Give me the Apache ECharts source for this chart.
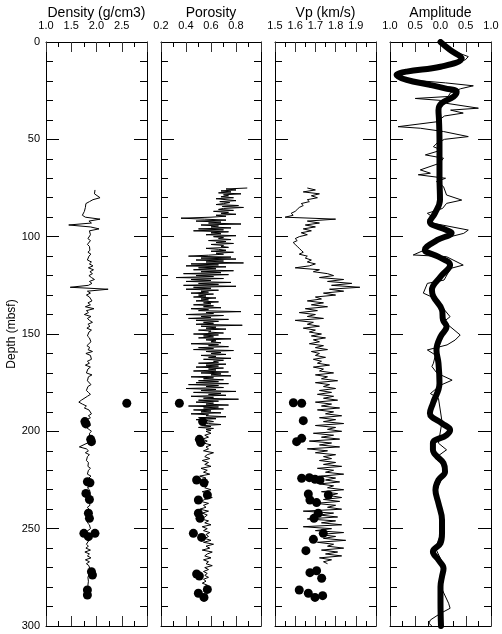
<!DOCTYPE html>
<html><head><meta charset="utf-8">
<script src="https://cdn.jsdelivr.net/npm/echarts@6/dist/echarts.min.js"></script>
<style>html,body{margin:0;padding:0;background:#fff}#c{width:502px;height:634px}</style>
</head><body><div id="c"></div>
<script>
// ---------- DATA ----------
var panelTitles = ['Density (g/cm3)', 'Porosity', 'Vp (km/s)', 'Amplitude'];
var depthTicks = [0, 50, 100, 150, 200, 250, 300];

// Density log (g/cm3), sampled every 1 m from 76 m
var densityStart = 76, densityStep = 1;
var densityLog = [
1.97,1.98,1.96,1.97,2.07,1.93,1.86,1.79,1.82,1.78,
1.80,1.76,1.74,1.72,1.78,2.07,1.85,1.90,1.45,1.88,
2.05,1.86,1.84,1.88,1.86,1.83,1.88,1.85,1.82,1.86,
1.84,1.87,1.83,1.89,1.85,1.88,1.82,1.90,1.86,1.93,
1.84,1.94,1.87,1.92,1.85,1.90,1.96,1.86,1.91,1.84,
1.48,2.23,1.82,1.88,1.80,1.86,1.84,1.91,1.83,1.88,
1.78,1.95,1.80,1.84,1.76,1.89,1.82,1.86,1.92,1.83,
1.87,1.81,1.90,1.85,1.88,1.82,1.86,1.84,1.89,1.85,
1.81,1.87,1.83,1.92,1.79,1.88,1.85,1.90,1.82,1.86,
1.78,1.88,1.83,1.86,1.80,1.91,1.84,1.87,1.82,1.85,
1.89,1.83,1.86,1.80,1.84,1.88,1.82,1.79,1.70,1.65,
1.72,1.80,1.76,1.85,1.82,1.90,1.84,1.88,1.81,1.86,
1.84,1.88,1.80,1.85,1.90,1.86,1.83,1.87,1.85,1.88,
1.82,1.85,1.66,1.80,1.84,1.78,1.86,1.82,1.85,1.80,
1.84,1.87,1.83,1.88,1.84,1.86,1.82,1.89,1.85,1.83,
1.87,1.84,1.88,1.82,1.86,1.83,1.88,1.85,1.87,1.84,
1.86,1.83,1.87,1.82,1.85,1.88,1.84,1.86,1.83,1.87,
1.85,1.82,1.86,1.84,1.88,1.83,1.79,1.86,1.84,1.81,
1.85,1.88,1.80,1.84,1.79,1.88,1.77,1.86,1.82,1.89,
1.78,1.86,1.80,1.85,1.83,1.87,1.84,1.86,1.85,1.83,
1.86,1.84,1.87,1.83,1.85,1.84,1.86,1.83,1.85,1.84,1.85];
var densityCoreDepth = [185.6,195.0,196.2,204.1,205.3,225.9,226.4,231.9,235.0,242.1,244.7,252.4,252.4,254.1,272.1,273.8,281.5,284.1];
var densityCore =      [2.60, 1.77, 1.79, 1.885,1.90, 1.82, 1.87, 1.79, 1.86, 1.84, 1.86, 1.75, 1.97, 1.84, 1.90, 1.92, 1.82, 1.82];

// Porosity log (fraction): upper part every 0.5 m from 75 m, lower part every 1 m from 200 m
var porosityUpperStart = 75, porosityUpperStep = 0.5;
var porosityUpper = [
0.89,0.72,0.80,0.68,0.76,0.66,0.84,0.70,0.74,0.68,0.78,0.64,0.72,0.80,0.67,0.75,0.70,0.64,0.82,0.69,
0.86,0.70,0.66,0.78,0.62,0.74,0.68,0.80,0.64,0.72,0.60,0.36,0.55,0.72,0.48,0.68,0.58,0.84,0.52,0.66,
0.60,0.76,0.50,0.70,0.46,0.74,0.60,0.68,0.56,0.80,0.62,0.70,0.66,0.76,0.58,0.72,0.64,0.78,0.60,0.70,
0.68,0.74,0.56,0.66,0.72,0.60,0.78,0.64,0.70,0.58,0.42,0.76,0.52,0.80,0.48,0.70,0.56,0.86,0.44,0.66,
0.40,0.72,0.50,0.64,0.46,0.78,0.52,0.68,0.38,0.74,0.48,0.62,0.32,0.70,0.44,0.60,0.40,0.76,0.50,0.66,
0.38,0.80,0.46,0.60,0.40,0.66,0.52,0.58,0.44,0.62,0.50,0.56,0.46,0.64,0.52,0.58,0.48,0.66,0.54,0.60,
0.46,0.62,0.54,0.68,0.44,0.58,0.50,0.84,0.56,0.62,0.40,0.70,0.52,0.60,0.42,0.74,0.48,0.66,0.54,0.62,
0.48,0.85,0.52,0.64,0.56,0.72,0.50,0.60,0.58,0.70,0.46,0.66,0.54,0.62,0.50,0.76,0.56,0.64,0.60,0.68,
0.44,0.66,0.58,0.74,0.50,0.62,0.46,0.78,0.56,0.68,0.60,0.72,0.52,0.64,0.58,0.76,0.54,0.70,0.62,0.66,
0.50,0.72,0.56,0.66,0.48,0.70,0.58,0.64,0.46,0.74,0.52,0.68,0.60,0.76,0.44,0.62,0.54,0.70,0.50,0.66,
0.48,0.74,0.42,0.66,0.56,0.70,0.40,0.64,0.52,0.80,0.46,0.68,0.58,0.72,0.44,0.62,0.54,0.82,0.50,0.66,
0.48,0.62,0.56,0.74,0.42,0.66,0.54,0.70,0.46,0.60,0.52,0.68,0.44,0.58,0.56,0.72,0.50,0.64,0.48,0.58,
0.62,0.52,0.58,0.68,0.54,0.60,0.50,0.62,0.56,0.60];
var porosityLowerStart = 200, porosityLowerStep = 1;
var porosityLower = [
0.56,0.60,0.55,0.58,0.53,
0.57,0.54,0.60,0.56,0.58,0.54,0.62,0.57,0.55,0.59,
0.53,0.58,0.55,0.60,0.52,0.57,0.54,0.59,0.51,0.56,
0.54,0.58,0.52,0.57,0.55,0.60,0.53,0.58,0.54,0.61,
0.55,0.52,0.58,0.54,0.56,0.51,0.58,0.53,0.57,0.55,
0.52,0.58,0.55,0.60,0.53,0.57,0.54,0.59,0.56,0.58,
0.55,0.60,0.54,0.62,0.56,0.59,0.53,0.61,0.57,0.55,
0.60,0.54,0.58,0.56,0.61,0.55,0.58,0.54,0.57,0.55,
0.58,0.54,0.56,0.53,0.57,0.55,0.58,0.54,0.56,0.55,0.57];
var porosityCoreDepth = [185.6,195.0,204.1,205.8,225.0,226.4,232.7,235.3,242.1,244.7,252.4,254.5,273.3,274.3,281.2,283.2,285.3];
var porosityCore =      [0.347,0.533,0.507,0.517,0.485,0.544,0.571,0.499,0.499,0.512,0.459,0.525,0.485,0.507,0.571,0.499,0.544];

// Vp log (km/s), sampled every 1 m from 75 m
var vpStart = 75, vpStep = 1;
var vpLog = [
1.66,1.70,1.64,1.72,1.68,1.71,1.66,1.67,1.63,1.64,
1.62,1.61,1.60,1.58,1.59,1.55,1.80,1.66,1.72,1.65,
1.70,1.64,1.68,1.63,1.66,1.62,1.60,1.61,1.59,1.60,
1.61,1.62,1.63,1.64,1.62,1.66,1.65,1.68,1.66,1.70,
1.67,1.60,1.72,1.69,1.76,1.79,1.72,1.84,1.76,1.88,
1.78,1.92,1.77,1.84,1.74,1.80,1.70,1.73,1.66,1.74,
1.68,1.76,1.65,1.71,1.62,1.70,1.66,1.74,1.60,1.69,
1.66,1.72,1.64,1.70,1.67,1.73,1.68,1.75,1.69,1.72,
1.67,1.74,1.70,1.76,1.68,1.72,1.70,1.75,1.69,1.73,
1.71,1.77,1.69,1.74,1.72,1.79,1.70,1.76,1.73,1.81,
1.70,1.77,1.74,1.80,1.72,1.78,1.71,1.79,1.74,1.81,
1.70,1.78,1.73,1.82,1.71,1.79,1.75,1.83,1.72,1.80,
1.74,1.84,1.70,1.80,1.76,1.83,1.69,1.79,1.73,1.82,
1.67,1.78,1.72,1.82,1.66,1.76,1.70,1.80,1.74,1.78,
1.72,1.80,1.74,1.83,1.71,1.79,1.75,1.84,1.73,1.80,
1.75,1.82,1.72,1.79,1.76,1.84,1.73,1.81,1.77,1.83,
1.74,1.82,1.70,1.80,1.76,1.83,1.64,1.79,1.72,1.81,
1.66,1.80,1.73,1.83,1.64,1.78,1.70,1.84,1.72,1.80,
1.74,1.85,1.71,1.79,1.76,1.84,1.73,1.81,1.75,1.83,
1.72,1.78,1.74,1.76];
var vpCoreDepth = [185.3,185.6,194.5,205.3,203.6,224.1,223.8,224.6,225.0,232.2,235.3,236.6,232.7,244.7,242.1,252.4,255.5,261.3,272.6,271.6,275.5,281.5,283.2,285.3,284.4];
var vpCore =      [1.591,1.632,1.640,1.607,1.632,1.632,1.670,1.698,1.723,1.665,1.673,1.706,1.764,1.693,1.714,1.739,1.690,1.653,1.673,1.706,1.731,1.620,1.665,1.698,1.736];

// Amplitude: synthetic (thin) and smoothed trace (thick)
var ampThinDepth = [0,4.1,7.5,9.2,10,12.7,15.2,17,19.5,21,22.5,24,26,28,29,30,31.5,34,35,36.5,38,41,43.5,44.3,46,48.6,50,51.7,53.8,55.5,58,59.7,62.3,65.7,67.4,68.2,70,71.7,74.3,78.6,81.2,82.9,85.5,88,89.8,91.5,93.2,96.6,98.3,101.7,106,106.8,109.4,110.3,114.6,116.3,122.3,124,129,131.7,141.1,143.6,150.5,153.1,155.6,158.2,160.8,165,166.7,170.1,173.7,176.3,180.6,183.1,195,206.1,209.5,213.8,217.2,220.7,230,240,250,260,267,270.4,280,288.3,290.9,293.5,296.9,298.6,300];
var ampThin = [0,0.2,0.55,0.49,0.35,0.0,-0.65,-0.85,-0.6,0.1,0.65,0.4,0.2,0.15,-0.5,0.0,0.12,0.75,0.2,0.45,0.08,-0.08,-0.84,-0.4,0.06,0.55,0.08,-0.06,-0.14,0.02,-0.3,0.06,-0.02,-0.4,-0.2,-0.44,0.1,-0.08,0.06,0.12,0.42,0.12,0.04,-0.26,-0.16,-0.26,-0.13,0.55,0.46,-0.06,-0.25,-0.31,-0.54,0.12,0.45,0.2,0.07,-0.26,-0.34,-0.11,0.19,0.07,0.39,0.29,0.13,-0.26,-0.1,-0.14,-0.17,-0.07,0.23,0.0,-0.2,-0.04,0.03,-0.04,0.12,-0.11,0.06,0.09,-0.08,-0.02,0.04,-0.1,0.03,0.06,0.01,0.16,0.19,0.0,-0.2,-0.23,-0.17];
var ampThickDepth = [0,4.1,8.4,12.7,15.2,17,19.5,22,23.8,25.5,28,31.5,35,40,50,60,70,81,88,92.3,96.6,98,101.7,105.1,106.8,110.3,114.6,120.6,127.4,130.8,137.7,142.8,146.2,151.4,158.2,165,175.3,185.6,190.7,195.9,199.3,201.9,206.1,209.5,216.4,220.7,225,230.1,237,245.5,252.4,257.5,261.8,266.1,270.4,274.6,279.8,288.3,300];
var ampThick = [0,0.19,0.42,0,-0.67,-0.87,-0.67,-0.21,0.09,0.32,0.26,0.02,-0.04,-0.03,-0.02,-0.02,-0.02,-0.01,-0.11,-0.21,0.12,0.22,-0.06,-0.27,-0.31,-0.04,0.19,0,-0.17,-0.14,0.03,0.05,0.12,0,-0.08,-0.04,-0.02,-0.15,-0.21,0.03,0.19,0.12,-0.15,-0.15,0.06,0.09,-0.04,-0.1,-0.04,0.03,0.03,0,-0.15,-0.04,0.06,0.03,0,0,0.01];

// ---------- BUILD ----------
function regular(start, step, vals){ return vals.map(function(v,i){ return [v, start + i*step]; }); }
function paired(depths, vals){ return vals.map(function(v,i){ return [v, depths[i]]; }); }

var FONT = '"Liberation Sans", Arial, sans-serif';
var INK = '#000';
var panels = [
  {left:46, width:101, min:1.0, max:3.0, interval:0.5, hideMax:true,  abs:false},
  {left:161, width:100, min:0.2, max:1.0, interval:0.2, hideMax:true, abs:false},
  {left:275, width:101, min:1.5, max:2.0, interval:0.1, hideMax:true, abs:false},
  {left:390, width:101, min:-1.0, max:1.0, interval:0.5, hideMax:false, abs:true}
];
var TOP = 42, H = 584;

var grids = [], xAxes = [], yAxes = [], graphics = [];
panels.forEach(function(p, g){
  grids.push({left:p.left, top:TOP, width:p.width, height:H, containLabel:false});
  var common = {
    type:'value', gridIndex:g, min:p.min, max:p.max, interval:p.interval,
    splitLine:{show:false},
    axisLine:{show:true, onZero:false, lineStyle:{color:INK, width:1}},
    axisTick:{show:true, inside:true, length:10, lineStyle:{color:'#333', width:1}},
    minorTick:{show:true, splitNumber:2, length:5, lineStyle:{color:INK, width:1}}
  };
  var top = Object.assign({}, common, {position:'top',
    axisLabel:{show:true, margin:11, color:INK, fontSize:11, fontFamily:FONT,
      formatter:function(v){
        if (p.hideMax && Math.abs(v - p.max) < 1e-9) return '';
        return (p.abs ? Math.abs(v) : v).toFixed(1);
      }}});
  var bot = Object.assign({}, common, {position:'bottom', axisLabel:{show:false}});
  xAxes.push(top, bot);
  var yc = {
    type:'value', gridIndex:g, inverse:true, min:0, max:300, interval:50,
    splitLine:{show:false},
    axisLine:{show:true, onZero:false, lineStyle:{color:INK, width:1}},
    axisTick:{show:true, inside:true, length:13, lineStyle:{color:INK, width:1}},
    minorTick:{show:true, splitNumber:5, length:7, lineStyle:{color:INK, width:1}}
  };
  yAxes.push(Object.assign({}, yc, {position:'left',
    axisLabel:{show:g===0, margin:6, color:INK, fontSize:11, fontFamily:FONT}}));
  yAxes.push(Object.assign({}, yc, {position:'right', axisLabel:{show:false}}));
  graphics.push({type:'text', x:p.left + p.width/2, y:13,
    style:{text:panelTitles[g], fill:INK, font:'14px ' + FONT, textAlign:'center', textVerticalAlign:'middle'}});
});
graphics.push({type:'text', x:12, y:TOP + H/2, rotation:Math.PI/2,
  style:{text:'Depth (mbsf)', fill:INK, font:'12px ' + FONT, textAlign:'center', textVerticalAlign:'middle'}});

function logLine(g, data, w){
  return {type:'line', xAxisIndex:2*g, yAxisIndex:2*g, data:data, showSymbol:false, symbol:'none',
    lineStyle:{color:INK, width:w}, silent:true, animation:false, clip:true};
}
function dots(g, data){
  return {type:'scatter', xAxisIndex:2*g, yAxisIndex:2*g, data:data, symbol:'circle', symbolSize:9,
    itemStyle:{color:INK, opacity:1}, silent:true, animation:false, z:3};
}
var series = [
  logLine(0, regular(densityStart, densityStep, densityLog), 1),
  dots(0, paired(densityCoreDepth, densityCore)),
  logLine(1, regular(porosityUpperStart, porosityUpperStep, porosityUpper).concat(
             regular(porosityLowerStart, porosityLowerStep, porosityLower)), 1),
  dots(1, paired(porosityCoreDepth, porosityCore)),
  logLine(2, regular(vpStart, vpStep, vpLog), 1),
  dots(2, paired(vpCoreDepth, vpCore)),
  logLine(3, paired(ampThinDepth, ampThin), 1),
  Object.assign(logLine(3, paired(ampThickDepth, ampThick), 6), {smooth:0.4, z:3})
];
series[series.length-1].lineStyle.cap = 'round';
series[series.length-1].lineStyle.join = 'round';

var chart = echarts.init(document.getElementById('c'), null, {renderer:'canvas'});
chart.setOption({
  animation:false, backgroundColor:'#fff',
  grid:grids, xAxis:xAxes, yAxis:yAxes, series:series, graphic:graphics
});
</script></body></html>
